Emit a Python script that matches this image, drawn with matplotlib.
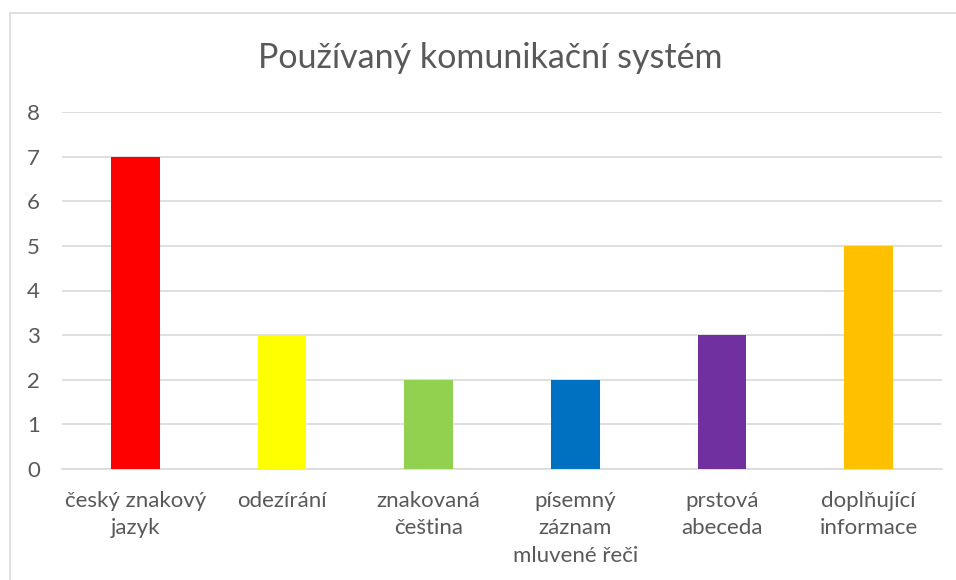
import matplotlib
matplotlib.use("Agg")
import matplotlib.pyplot as plt
from matplotlib.patches import Rectangle

# ── Data ─────────────────────────────────────────────────────────────
categories = ["český znakový\njazyk", "odezírání", "znakovaná\nčeština",
              "písemný\nzáznam\nmluvené řeči", "prstová\nabeceda",
              "doplňující\ninformace"]
values = [7, 3, 2, 2, 3, 5]
colors = ["#FF0000", "#FFFF00", "#92D050", "#0070C0", "#7030A0", "#FFC000"]
title = "Používaný komunikační systém"

TEXT = "#595959"
GRID = "#D9D9D9"

plt.rcParams["font.family"] = ["Lato", "DejaVu Sans"]

fig = plt.figure(figsize=(9.56, 5.8), dpi=100)
fig.patch.set_facecolor("white")

# chart border (Excel style)
fig.patches.append(Rectangle((10 / 956, -0.05), 1.2, (580 - 13) / 580 + 0.05,
                             transform=fig.transFigure, fill=False,
                             edgecolor=GRID, linewidth=1.2))

ax = fig.add_axes([62 / 956, 1 - 469 / 580, (942 - 62) / 956, (469 - 112) / 580])
x = range(len(categories))
ax.bar(x, values, width=0.33, color=colors, zorder=3)

ax.set_xlim(-0.5, len(categories) - 0.5)
ax.set_ylim(0, 8)
ax.set_yticks(range(0, 9))
ax.yaxis.grid(True, color=GRID, linewidth=1.2, zorder=0)
ax.set_xticks(list(x))
ax.set_xticklabels(categories, fontsize=16, color=TEXT, linespacing=1.45)
ax.tick_params(axis="y", labelsize=16, labelcolor=TEXT, length=0, pad=16)
ax.tick_params(axis="x", length=0, pad=16)
for s in ["top", "right", "left"]:
    ax.spines[s].set_visible(False)
ax.spines["bottom"].set_color(GRID)
ax.spines["bottom"].set_linewidth(1.2)

fig.text(490 / 956, 1 - 58 / 580, title, ha="center", va="center",
         fontsize=24.5, color=TEXT)

fig.savefig("out.png", dpi=100)
